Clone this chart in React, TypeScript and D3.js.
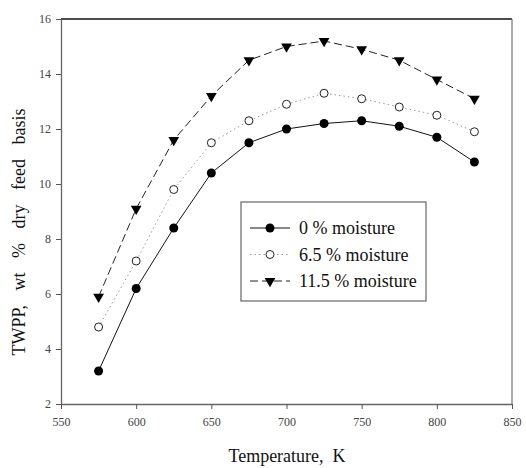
import React, { useRef, useEffect } from "react";
import * as d3 from "d3";

const temps = [575, 600, 625, 650, 675, 700, 725, 750, 775, 800, 825];
const dry = [3.2, 6.2, 8.4, 10.4, 11.5, 12.0, 12.2, 12.3, 12.1, 11.7, 10.8];
const mid = [4.8, 7.2, 9.8, 11.5, 12.3, 12.9, 13.3, 13.1, 12.8, 12.5, 11.9];
const wet = [5.9, 9.1, 11.6, 13.2, 14.5, 15.0, 15.2, 14.9, 14.5, 13.8, 13.1];
const seriesNames = ["0 % moisture", "6.5 % moisture", "11.5 % moisture"];
const xTicks = [550, 600, 650, 700, 750, 800, 850];
const yTicks = [2, 4, 6, 8, 10, 12, 14, 16];

const drawChart = (svgRef) => {
  const svg = d3.select(svgRef.current);
  svg.selectAll("*").remove();
  const font = "'Liberation Serif', 'Times New Roman', serif";
  const left = 61, right = 512, top = 19, bottom = 404;

  const x = d3.scaleLinear().domain([550, 850]).range([left, right]);
  const y = d3.scaleLinear().domain([2, 16]).range([bottom, top]);

  // frame
  svg.append("line").attr("x1", left).attr("x2", right).attr("y1", top).attr("y2", top)
    .attr("stroke", "#111").attr("stroke-width", 1.5);
  svg.append("line").attr("x1", right).attr("x2", right).attr("y1", top).attr("y2", bottom)
    .attr("stroke", "#777").attr("stroke-width", 1.2);

  const xAxis = svg.append("g").attr("transform", `translate(0,${bottom})`)
    .call(d3.axisBottom(x).tickValues(xTicks).tickSize(5).tickPadding(8).tickSizeOuter(0));
  const yAxis = svg.append("g").attr("transform", `translate(${left},0)`)
    .call(d3.axisLeft(y).tickValues(yTicks).tickSize(5).tickPadding(5).tickSizeOuter(0));
  [xAxis, yAxis].forEach((a) => {
    a.select(".domain").attr("stroke", "#666").attr("stroke-width", 1.3);
    a.selectAll(".tick line").attr("stroke", "#555");
    a.selectAll(".tick text").attr("font-family", font).attr("font-size", 12).attr("fill", "#444");
  });

  const data = [dry, mid, wet];
  const dashes = [null, "1.5,3", "8,4"];
  const lineColors = ["#111", "#999", "#222"];
  const line = d3.line().x((d) => x(d[0])).y((d) => y(d[1]));
  const tri = d3.symbol().type(d3.symbolTriangle).size(50);

  const marker = (g, i, cx, cy) => {
    if (i === 0) {
      g.append("circle").attr("cx", cx).attr("cy", cy).attr("r", 4.5).attr("fill", "#000");
    } else if (i === 1) {
      g.append("circle").attr("cx", cx).attr("cy", cy).attr("r", 4).attr("fill", "#fff")
        .attr("stroke", "#222").attr("stroke-width", 1);
    } else {
      g.append("path").attr("d", tri).attr("fill", "#000")
        .attr("transform", `translate(${cx},${cy}) rotate(180)`);
    }
  };

  data.forEach((vals, i) => {
    const pts = temps.map((t, j) => [t, vals[j]]);
    svg.append("path").attr("d", line(pts)).attr("fill", "none")
      .attr("stroke", lineColors[i]).attr("stroke-width", 1)
      .attr("stroke-dasharray", dashes[i]);
    const g = svg.append("g");
    pts.forEach((p) => marker(g, i, x(p[0]), y(p[1])));
  });

  // legend
  const lg = svg.append("g");
  lg.append("rect").attr("x", 241).attr("y", 202).attr("width", 185).attr("height", 99)
    .attr("fill", "#fff").attr("stroke", "#666").attr("stroke-width", 1.2);
  seriesNames.forEach((name, i) => {
    const ly = 228 + i * 26.5;
    lg.append("line").attr("x1", 250).attr("x2", 290).attr("y1", ly).attr("y2", ly)
      .attr("stroke", lineColors[i]).attr("stroke-dasharray", dashes[i]);
    marker(lg, i, 270, ly);
    lg.append("text").attr("x", 299).attr("y", ly + 6).text(name)
      .attr("font-family", font).attr("font-size", 18).attr("fill", "#111");
  });

  svg.append("text").attr("x", 287).attr("y", 462).attr("text-anchor", "middle")
    .attr("font-family", font).attr("font-size", 18).attr("fill", "#111")
    .attr("xml:space", "preserve").text("Temperature,  K");
  svg.append("text").attr("transform", "translate(25,232) rotate(-90)")
    .attr("text-anchor", "middle").attr("font-family", font).attr("font-size", 18)
    .attr("fill", "#111").attr("word-spacing", 10)
    .text("TWPP, wt % dry feed basis");
};

const App = () => {
  const svgRef = useRef(null);
  useEffect(() => {
    drawChart(svgRef);
  }, []);
  return (
    <svg ref={svgRef} width={526} height={468}
      style={{ position: "absolute", left: 0, top: 0, background: "#fff" }} />
  );
};

export default App;
